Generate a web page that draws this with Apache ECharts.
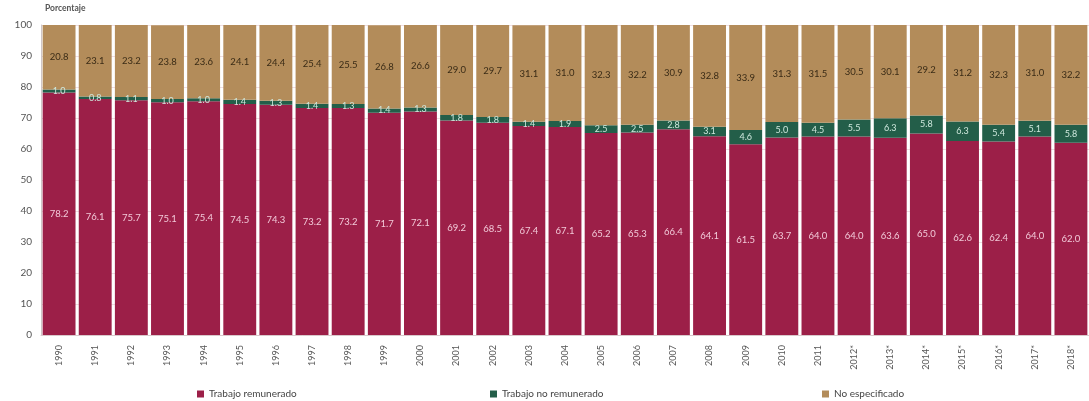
<!DOCTYPE html>
<html>
<head>
<meta charset="utf-8">
<script src="https://cdn.jsdelivr.net/npm/echarts@6/dist/echarts.min.js"></script>
<style>
html,body{margin:0;padding:0;background:#ffffff;}
#chart{width:1089px;height:401px;}
</style>
</head>
<body>
<div id="chart"></div>
<script>
const categories = ['1990','1991','1992','1993','1994','1995','1996','1997','1998','1999','2000','2001','2002','2003','2004','2005','2006','2007','2008','2009','2010','2011','2012*','2013*','2014*','2015*','2016*','2017*','2018*'];
const remunerado = [78.2,76.1,75.7,75.1,75.4,74.5,74.3,73.2,73.2,71.7,72.1,69.2,68.5,67.4,67.1,65.2,65.3,66.4,64.1,61.5,63.7,64.0,64.0,63.6,65.0,62.6,62.4,64.0,62.0];
const noRemunerado = [1.0,0.8,1.1,1.0,1.0,1.4,1.3,1.4,1.3,1.4,1.3,1.8,1.8,1.4,1.9,2.5,2.5,2.8,3.1,4.6,5.0,4.5,5.5,6.3,5.8,6.3,5.4,5.1,5.8];
const noEspecificado = [20.8,23.1,23.2,23.8,23.6,24.1,24.4,25.4,25.5,26.8,26.6,29.0,29.7,31.1,31.0,32.3,32.2,30.9,32.8,33.9,31.3,31.5,30.5,30.1,29.2,31.2,32.3,31.0,32.2];
const yTicks = {min:0, max:100, interval:10};

const FONT = 'Lato, "Open Sans", sans-serif';
const fmt = p => p.value.toFixed(1);

const chart = echarts.init(document.getElementById('chart'), null, {renderer:'canvas'});
const legendBase = {
  orient:'horizontal', top:384, itemWidth:7, itemHeight:7, icon:'rect', itemGap:4,
  textStyle:{fontFamily:FONT, fontSize:10, color:'#444'}
};
chart.setOption({
  animation:false,
  backgroundColor:'#ffffff',
  graphic:[{type:'text', left:45, top:4, style:{text:'Porcentaje', font:'bold 8.5px ' + FONT, fill:'#555'}}],
  legend:[
    Object.assign({left:192, data:['Trabajo remunerado']}, legendBase),
    Object.assign({left:485, data:['Trabajo no remunerado']}, legendBase),
    Object.assign({left:817, data:['No especificado']}, legendBase)
  ],
  grid:{left:41, top:25, bottom:66, width:1054, containLabel:false},
  xAxis:{
    type:'category', data:categories,
    axisLine:{show:true, lineStyle:{color:'#d9c9cc'}},
    axisTick:{show:false},
    axisLabel:{rotate:90, fontFamily:FONT, fontSize:9, color:'#555', margin:10, interval:0}
  },
  yAxis:{
    type:'value', min:yTicks.min, max:yTicks.max, interval:yTicks.interval,
    axisLine:{show:true, lineStyle:{color:'#cfc6c8'}},
    axisTick:{show:false},
    splitLine:{show:true, lineStyle:{color:'#efdde2', width:1}},
    axisLabel:{fontFamily:FONT, fontSize:10, color:'#555', margin:9}
  },
  series:[
    {name:'Trabajo remunerado', type:'bar', stack:'t', data:remunerado, barCategoryGap:'9%',
     itemStyle:{color:'#9c1f48'},
     label:{show:true, position:'inside', formatter:fmt, fontFamily:FONT, fontSize:9.5, color:'#f2c9d8'}},
    {name:'Trabajo no remunerado', type:'bar', stack:'t', data:noRemunerado,
     itemStyle:{color:'#235e49'},
     label:{show:true, position:'inside', formatter:fmt, fontFamily:FONT, fontSize:9, color:'#cfe8dd'}},
    {name:'No especificado', type:'bar', stack:'t', data:noEspecificado,
     itemStyle:{color:'#b38c5a'},
     label:{show:true, position:'inside', formatter:fmt, fontFamily:FONT, fontSize:9.5, color:'#3a2b16'}}
  ]
});
</script>
</body>
</html>
